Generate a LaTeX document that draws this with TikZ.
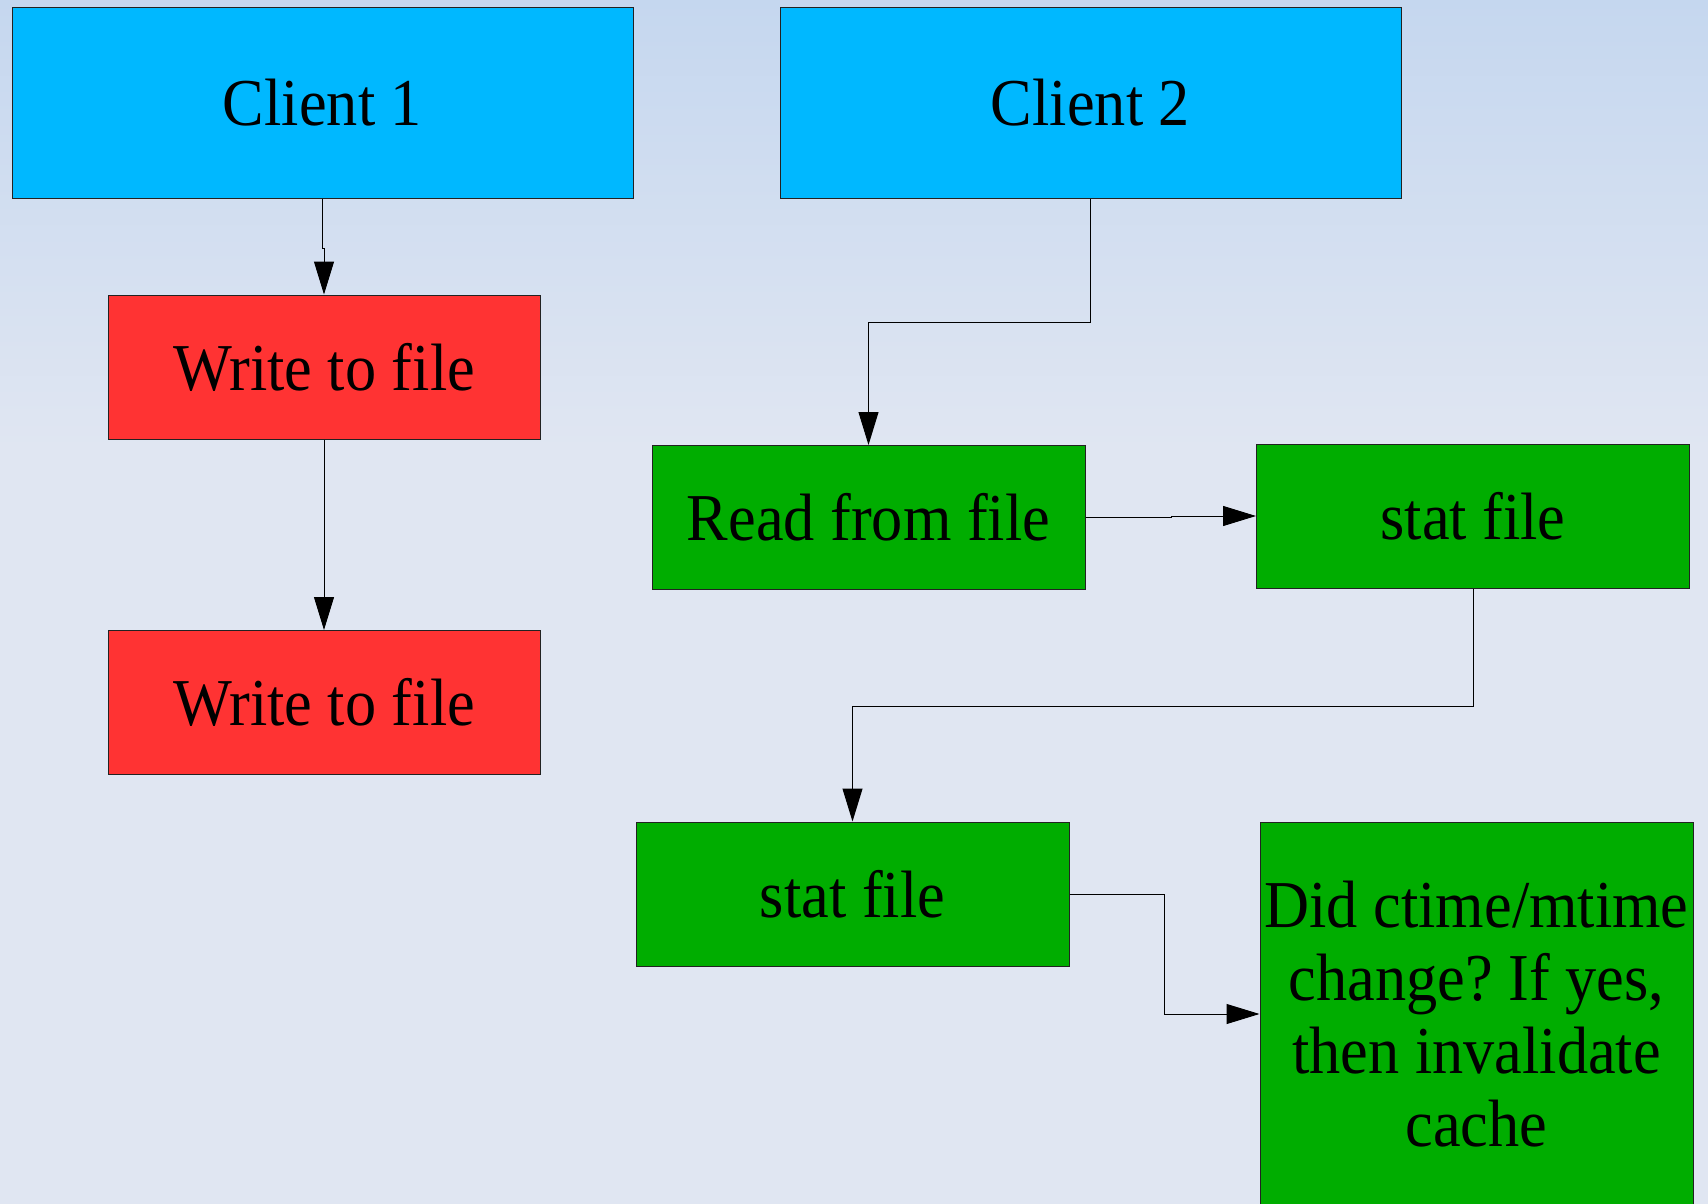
\documentclass[tikz,border=0pt]{standalone}
\usepackage{fontspec}
\setmainfont{Liberation Serif}[FakeStretch=0.93]
\usetikzlibrary{arrows.meta}
\definecolor{bgtop}{HTML}{C5D7EF}
\definecolor{bgbot}{HTML}{E0E6F2}
\definecolor{cblue}{HTML}{00B8FF}
\definecolor{cred}{HTML}{FF3333}
\definecolor{cgreen}{HTML}{00AD00}
\definecolor{edge}{HTML}{222222}
\frenchspacing
\tikzset{
  box/.style={draw=edge, line width=1pt, inner sep=0pt, align=center,
    font=\fontsize{67}{73}\selectfont},
  bigbox/.style={box, fill=cblue, minimum width=621pt, minimum height=190pt},
  wbox/.style={box, fill=cred, minimum width=432pt, minimum height=144pt},
  gbox/.style={box, fill=cgreen, minimum width=433pt, minimum height=144pt},
  arr/.style={draw=black, line width=1pt, -{Triangle[length=33pt,width=20pt]}}
}
\begin{document}
\begin{tikzpicture}[x=1pt,y=-1pt]
\useasboundingbox (0,0) rectangle (1708,1204);
\clip (0,0) rectangle (1708,1204);
\fill[top color=bgtop, bottom color=bgbot] (0,0) rectangle (1708,450);
\fill[bgbot] (0,449) rectangle (1708,1204);

\node[bigbox] (c1) at (322.5,103) {Client 1};
\node[bigbox] (c2) at (1090.5,103) {Client 2};
\node[wbox] (w1) at (324,367) {Write to file};
\node[wbox] (w2) at (324,702.5) {Write to file};
\node[gbox] (rd) at (868.5,517.5) {Read from file};
\node[gbox] (s1) at (1473,516) {stat file};
\node[gbox] (s2) at (852.5,894) {stat file};
\node[box, fill=cgreen, minimum width=433pt, minimum height=384pt] (did) at (1476.5,1014)
  {Did ctime/mtime\\change? If yes,\\then invalidate\\cache};

\draw[arr] (c1.south) -- ++(0,50) -| (w1.north);
\draw[arr] (w1.south) -- (w2.north);
\draw[arr] (c2.south) -- ++(0,124) -| (rd.north);
\draw[arr] (rd.east) -- ++(86,0) |- (s1.west);
\draw[arr] (s1.south) -- ++(0,118) -| (s2.north);
\draw[arr] (s2.east) -- ++(95,0) |- (did.west);
\end{tikzpicture}
\end{document}
